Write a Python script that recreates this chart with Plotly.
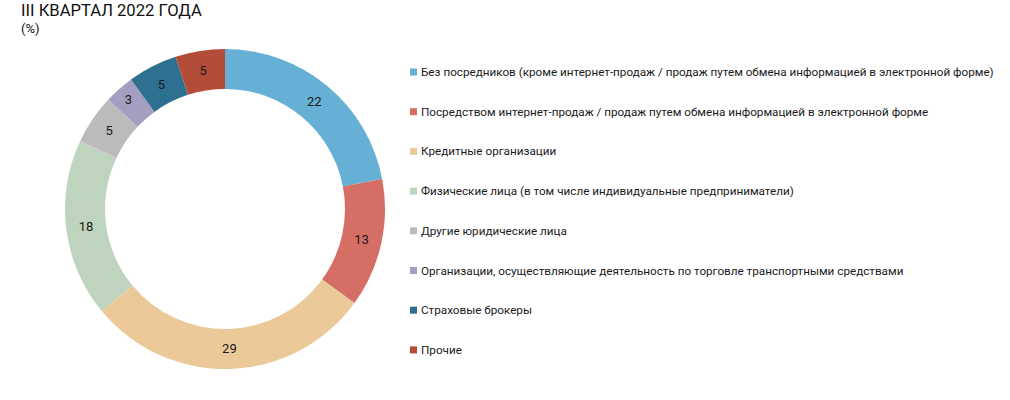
import plotly.graph_objects as go

labels = [
    "Без посредников (кроме интернет-продаж / продаж путем обмена информацией в электронной форме)",
    "Посредством интернет-продаж / продаж путем обмена информацией в электронной форме",
    "Кредитные организации",
    "Физические лица (в том числе индивидуальные предприниматели)",
    "Другие юридические лица",
    "Организации, осуществляющие деятельность по торговле транспортными средствами",
    "Страховые брокеры",
    "Прочие",
]
values = [22, 13, 29, 18, 5, 3, 5, 5]
colors = ["#67B0D5", "#D56F65", "#ECC998", "#BED4BF", "#BBBBBB", "#A49FC0", "#2E7090", "#B44C3A"]

W, H = 1010, 400
FONT = "Roboto"

fig = go.Figure()
fig.add_trace(go.Pie(
    labels=labels, values=values, sort=False, direction="clockwise", rotation=0,
    hole=0.75, marker=dict(colors=colors, line=dict(width=0)),
    text=[str(v) for v in values], textinfo="text", textposition="inside",
    insidetextorientation="horizontal",
    textfont=dict(family=FONT, size=13, color="#1a1a1a"),
    domain=dict(x=[65 / W, 385 / W], y=[1 - 369 / H, 1 - 49 / H]),
    showlegend=False, hoverinfo="label+value",
))

annotations = [
    dict(text="III КВАРТАЛ 2022 ГОДА", x=19 / W, y=1 + 1 / H, xref="paper", yref="paper",
         xanchor="left", yanchor="top", showarrow=False,
         font=dict(family=FONT, size=16.6, color="#111111")),
    dict(text="(%)", x=19 / W, y=1 - 19 / H, xref="paper", yref="paper",
         xanchor="left", yanchor="top", showarrow=False,
         font=dict(family=FONT, size=13, color="#111111")),
]
shapes = []
y0, step = 72, 39.7
for i, (lab, col) in enumerate(zip(labels, colors)):
    yc = y0 + i * step
    shapes.append(dict(type="rect", xref="paper", yref="paper",
                       x0=410 / W, x1=417 / W, y0=1 - (yc + 3.5) / H, y1=1 - (yc - 3.5) / H,
                       fillcolor=col, line=dict(width=0)))
    annotations.append(dict(text=lab, x=419 / W, y=1 - yc / H, xref="paper", yref="paper",
                            xanchor="left", yanchor="middle", showarrow=False,
                            font=dict(family=FONT, size=11.7, color="#1a1a1a")))

fig.update_layout(
    width=W, height=H, margin=dict(l=0, r=0, t=0, b=0),
    paper_bgcolor="white", plot_bgcolor="white",
    annotations=annotations, shapes=shapes,
)
fig.write_html("out.html")
